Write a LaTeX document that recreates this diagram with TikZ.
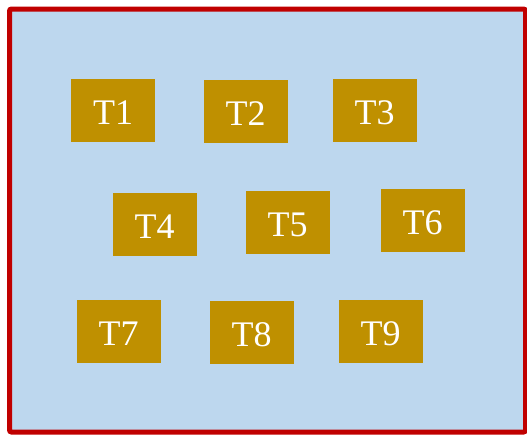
\documentclass[tikz,border=0pt]{standalone}
\usepackage{fontspec}
\setmainfont{Liberation Serif}
\definecolor{gold}{HTML}{BF9000}
\definecolor{lightblue}{HTML}{BDD7EE}
\definecolor{darkred}{HTML}{C00000}
\begin{document}
\begin{tikzpicture}[x=1pt,y=-1pt,
  tbox/.style={fill=gold, draw=none, minimum width=84pt, minimum height=63pt, inner sep=0pt,
    text=white, font=\fontsize{36}{40}\selectfont, text height=28pt, text depth=0pt, anchor=center}]
\useasboundingbox (0,0) rectangle (527,434);
\node[draw=darkred, line width=5pt, fill=lightblue, rounded corners=2pt, minimum width=516pt, minimum height=423pt, inner sep=0pt] (frame) at (267.5,220.5) {};
\node[tbox] (t1) at (113,110) {T1};
\node[tbox] (t2) at (245.5,111) {T2};
\node[tbox] (t3) at (374.5,110) {T3};
\node[tbox] (t4) at (154.7,224.3) {T4};
\node[tbox] (t5) at (287.5,222) {T5};
\node[tbox] (t6) at (422.5,220) {T6};
\node[tbox] (t7) at (118.5,331) {T7};
\node[tbox] (t8) at (251.5,332) {T8};
\node[tbox] (t9) at (380.5,331) {T9};
\end{tikzpicture}
\end{document}
